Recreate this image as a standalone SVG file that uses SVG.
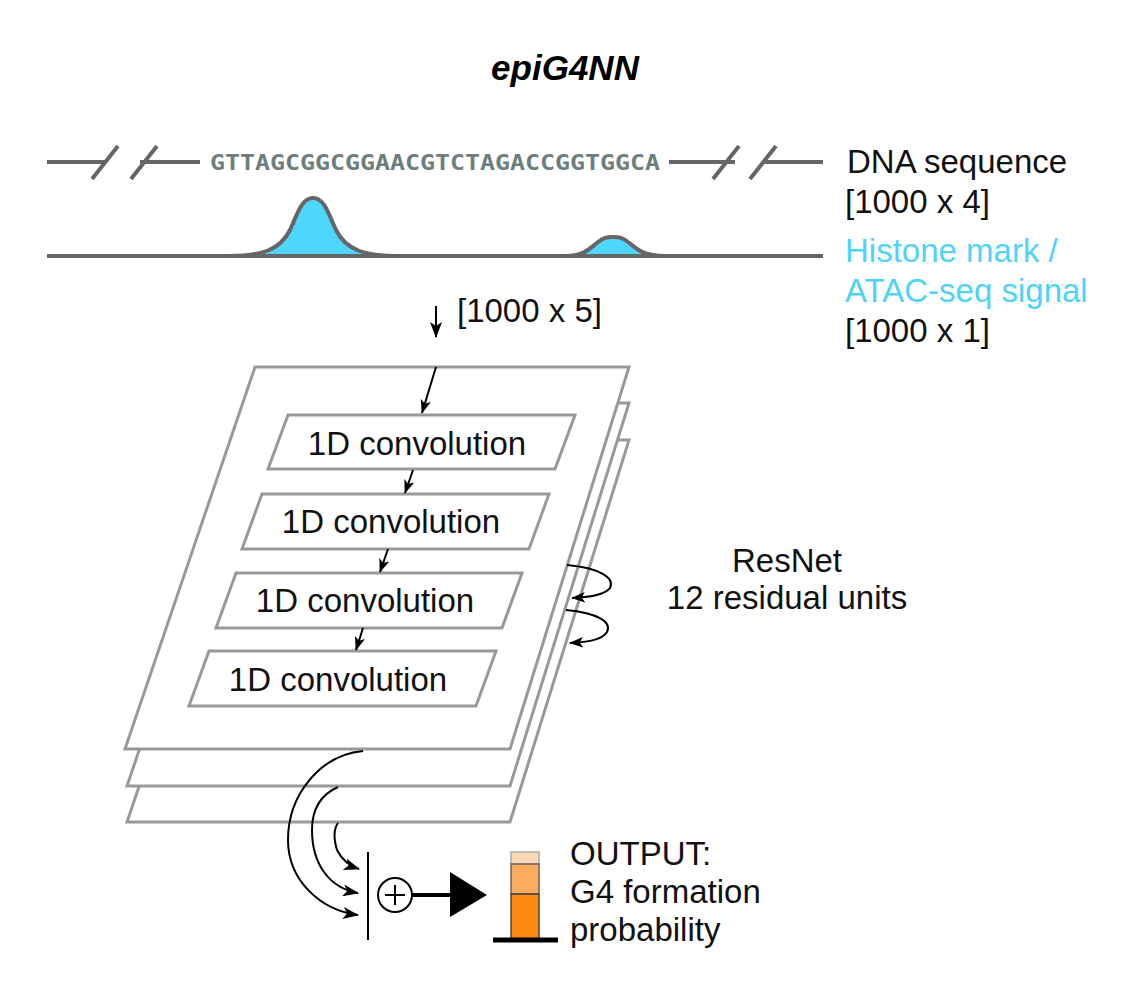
<svg xmlns="http://www.w3.org/2000/svg" width="1127" height="992" viewBox="0 0 1127 992">
<style>
.lbl{font-family:"Liberation Sans",Arial,sans-serif;font-size:33px;fill:#111}
.cyan{fill:#4fd3f8}
.gl{stroke:#666;stroke-width:4;fill:none;stroke-linecap:butt}
.layer{fill:#fff;stroke:#999;stroke-width:3;stroke-linejoin:miter}
.conv{fill:#fff;stroke:#999;stroke-width:3}
.arr{fill:none;stroke:#000;stroke-width:2}
.peak{fill:#4fd6fd;stroke:#666;stroke-width:4}
</style>
<defs>
<marker id="ah" viewBox="0 0 16 12" markerWidth="16" markerHeight="12" refX="15" refY="6" orient="auto" markerUnits="userSpaceOnUse">
<path d="M0,0 L16,6 L0,12 L4,6 Z" fill="#000"/>
</marker>
<marker id="ahs" viewBox="0 0 16 12" markerWidth="14" markerHeight="11" refX="15" refY="6" orient="auto" markerUnits="userSpaceOnUse">
<path d="M0,0 L16,6 L0,12 L4,6 Z" fill="#000"/>
</marker>
</defs>

<g id="title">
<text x="565" y="80" text-anchor="middle" style="font-family:'Liberation Sans',Arial,sans-serif;font-size:35px;font-weight:bold;font-style:italic;fill:#000">epiG4NN</text>
</g>

<g id="dna">
<line class="gl" x1="47" y1="162" x2="105" y2="162"/>
<line class="gl" x1="92" y1="179" x2="118" y2="146"/>
<line class="gl" x1="131" y1="179" x2="157" y2="146"/>
<line class="gl" x1="140" y1="162" x2="200" y2="162"/>
<text x="210" y="170" textLength="450" lengthAdjust="spacingAndGlyphs" style="font-family:'DejaVu Sans Mono',monospace;font-weight:bold;font-size:22px;fill:#6b807e">GTTAGCGGCGGAACGTCTAGACCGGTGGCA</text>
<line class="gl" x1="669" y1="162" x2="735" y2="162"/>
<line class="gl" x1="713" y1="179" x2="739" y2="146"/>
<line class="gl" x1="750" y1="179" x2="776" y2="146"/>
<line class="gl" x1="765" y1="162" x2="823" y2="162"/>
</g>

<g id="signal">
<path class="peak" d="M228,256 C262,256 280,250 290,230 C298,212 302,198 313,198 C324,198 328,212 336,230 C346,250 364,256 400,256 Z"/>
<path class="peak" d="M565,256 C585,256 590,248 598,242 C604,237 608,237 613,237 C618,237 622,237 628,242 C636,248 642,256 665,256 Z"/>
<line class="gl" x1="47" y1="256" x2="823" y2="256"/>
</g>

<g id="input-labels">
<text class="lbl" x="847" y="173">DNA sequence</text>
<text class="lbl" x="845" y="213">[1000 x 4]</text>
<text class="lbl cyan" x="845" y="262">Histone mark /</text>
<text class="lbl cyan" x="845" y="302">ATAC-seq signal</text>
<text class="lbl" x="845" y="342">[1000 x 1]</text>
<text class="lbl" x="457" y="322">[1000 x 5]</text>
</g>

<g id="layer3"><polygon class="layer" points="257,440 629,440 510,822 127,822"/></g>
<g id="layer2"><polygon class="layer" points="257,403 629,403 510,786 127,786"/></g>
<g id="layer1"><polygon class="layer" points="255,367 629,367 510,749 125,749"/></g>

<g id="conv1"><polygon class="conv" points="288,415 575,415 555,469 268,469"/><text class="lbl" x="417" y="455" text-anchor="middle">1D convolution</text></g>
<g id="conv2"><polygon class="conv" points="262,494 549,494 529,549 242,549"/><text class="lbl" x="391" y="533" text-anchor="middle">1D convolution</text></g>
<g id="conv3"><polygon class="conv" points="236,573 522,573 502,628 216,628"/><text class="lbl" x="365" y="612" text-anchor="middle">1D convolution</text></g>
<g id="conv4"><polygon class="conv" points="209,651 496,651 476,706 189,706"/><text class="lbl" x="338" y="691" text-anchor="middle">1D convolution</text></g>

<g id="resnet-label">
<text class="lbl" x="787" y="572" text-anchor="middle">ResNet</text>
<text class="lbl" x="787" y="609" text-anchor="middle">12 residual units</text>
</g>

<g id="sum">
<line x1="368" y1="852" x2="368" y2="940" stroke="#000" stroke-width="2"/>
<circle cx="395" cy="895" r="17" fill="#fff" stroke="#000" stroke-width="2"/>
<line x1="385" y1="895" x2="405" y2="895" stroke="#000" stroke-width="2"/>
<line x1="395" y1="885" x2="395" y2="905" stroke="#000" stroke-width="2"/>
</g>

<g id="output">
<rect x="511" y="852" width="28" height="12" fill="#fdd8b2" stroke="#aaa" stroke-width="1.5"/>
<rect x="511" y="864" width="28" height="30" fill="#fdab5c" stroke="#666" stroke-width="1.5"/>
<rect x="511" y="894" width="28" height="45" fill="#fd8a14" stroke="#444" stroke-width="1.5"/>
<line x1="493" y1="940" x2="558" y2="940" stroke="#000" stroke-width="5"/>
<text class="lbl" x="570" y="865">OUTPUT:</text>
<text class="lbl" x="570" y="903">G4 formation</text>
<text class="lbl" x="570" y="941">probability</text>
</g>

<g id="connectors">
<line class="arr" x1="436" y1="306" x2="436" y2="337" marker-end="url(#ah)"/>
<line class="arr" x1="436" y1="367" x2="422" y2="413" marker-end="url(#ahs)"/>
<line class="arr" x1="413" y1="470" x2="405" y2="493" marker-end="url(#ahs)"/>
<line class="arr" x1="388" y1="549" x2="380" y2="572" marker-end="url(#ahs)"/>
<line class="arr" x1="363" y1="628" x2="356" y2="650" marker-end="url(#ahs)"/>
<path class="arr" d="M567,565 C600,568 615,578 610,588 C605,595 590,597 572,598" marker-end="url(#ahs)"/>
<path class="arr" d="M566,610 C598,613 612,622 607,632 C602,640 588,642 570,643" marker-end="url(#ahs)"/>
<path class="arr" d="M363,751 C320,755 288,795 288,840 C288,880 320,910 358,915" marker-end="url(#ah)"/>
<path class="arr" d="M338,787 C320,795 312,810 312,830 C312,865 330,888 358,893" marker-end="url(#ah)"/>
<path class="arr" d="M338,823 C333,830 334,840 337,850 C342,860 350,866 359,869" marker-end="url(#ah)"/>
<line x1="412" y1="895" x2="455" y2="895" stroke="#000" stroke-width="4"/>
<polygon points="450,872 487,895 450,917" fill="#000"/>
</g>
</svg>
